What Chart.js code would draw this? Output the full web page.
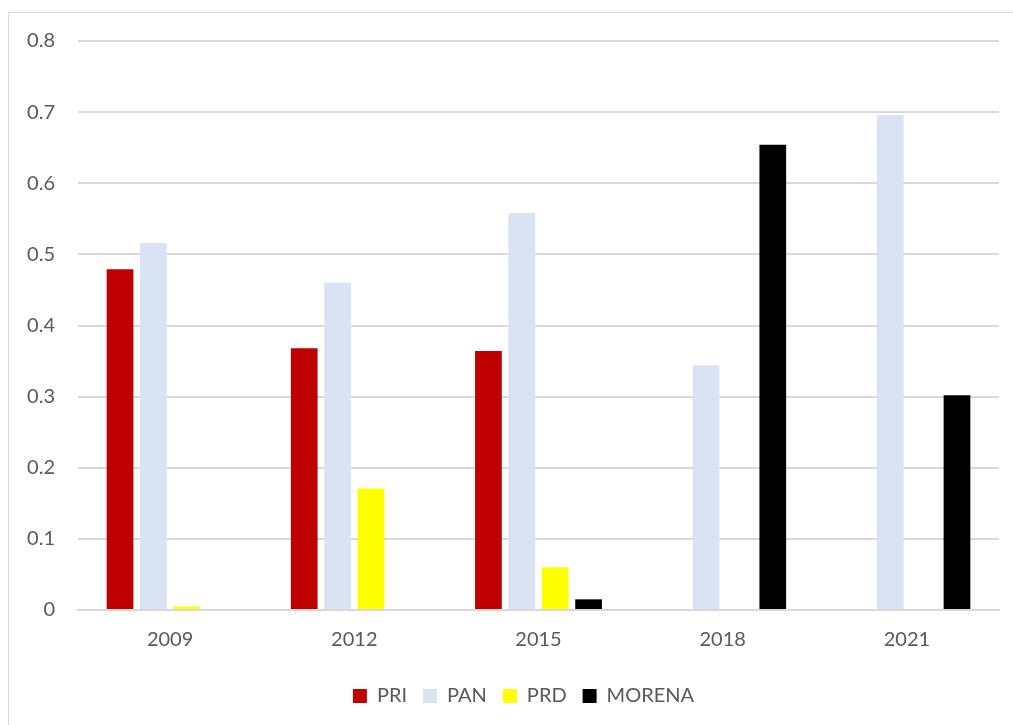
<!DOCTYPE html>
<html>
<head>
<meta charset="utf-8">
<script src="https://cdn.jsdelivr.net/npm/chart.js@4"></script>
<style>
html,body{margin:0;padding:0;background:#fff;overflow:hidden;}
#frame{position:absolute;left:8px;top:12px;width:1100px;height:800px;border-left:1px solid #d9d9d9;border-top:1px solid #d9d9d9;}
#wrap{position:absolute;left:0;top:0;width:1013px;height:725px;}
</style>
</head>
<body>
<div id="frame"></div>
<div id="wrap"><canvas id="c" width="1013" height="725"></canvas></div>
<script>
const years = ['2009', '2012', '2015', '2018', '2021'];
const pri = [0.479, 0.368, 0.364, 0, 0];
const pan = [0.516, 0.460, 0.558, 0.344, 0.696];
const prd = [0.005, 0.171, 0.060, 0, 0];
const morena = [0, 0, 0.015, 0.654, 0.302];
const yTicks = [0, 0.1, 0.2, 0.3, 0.4, 0.5, 0.6, 0.7, 0.8];

const FONT = 'Lato, "Open Sans", sans-serif';
const TXT = '#595959';

const shiftLegend = {
  id: 'shiftLegend',
  afterLayout(chart) {
    const lg = chart.legend;
    if (lg) { lg.left += 24; lg.right += 24; }
  }
};

new Chart(document.getElementById('c'), {
  type: 'bar',
  data: {
    labels: years,
    datasets: [
      {label: 'PRI', data: pri, backgroundColor: '#C00000'},
      {label: 'PAN', data: pan, backgroundColor: '#DAE3F3'},
      {label: 'PRD', data: prd, backgroundColor: '#FFFF00'},
      {label: 'MORENA', data: morena, backgroundColor: '#000000'}
    ]
  },
  plugins: [shiftLegend],
  options: {
    responsive: false,
    animation: false,
    devicePixelRatio: 1,
    datasets: {bar: {categoryPercentage: 0.725, barPercentage: 0.8, borderWidth: 0}},
    layout: {padding: {top: 41, right: 14, bottom: 9, left: 0}},
    plugins: {
      tooltip: {enabled: false},
      legend: {
        position: 'bottom',
        labels: {
          color: TXT,
          font: {family: FONT, size: 20},
          boxWidth: 14,
          boxHeight: 14,
          padding: 16
        }
      }
    },
    scales: {
      x: {
        grid: {display: false, drawTicks: false},
        border: {display: true, color: '#d9d9d9', width: 2},
        ticks: {color: TXT, font: {family: FONT, size: 20}, padding: 18}
      },
      y: {
        min: 0, max: 0.8,
        afterFit: s => { s.width = 78; },
        afterBuildTicks: s => { s.ticks = yTicks.map(v => ({value: v})); },
        grid: {color: '#d9d9d9', lineWidth: 2, drawTicks: false},
        border: {display: false},
        ticks: {
          color: TXT, font: {family: FONT, size: 20}, padding: 23,
          callback: v => (Math.round(v * 10) / 10).toString()
        }
      }
    }
  }
});
</script>
</body>
</html>
